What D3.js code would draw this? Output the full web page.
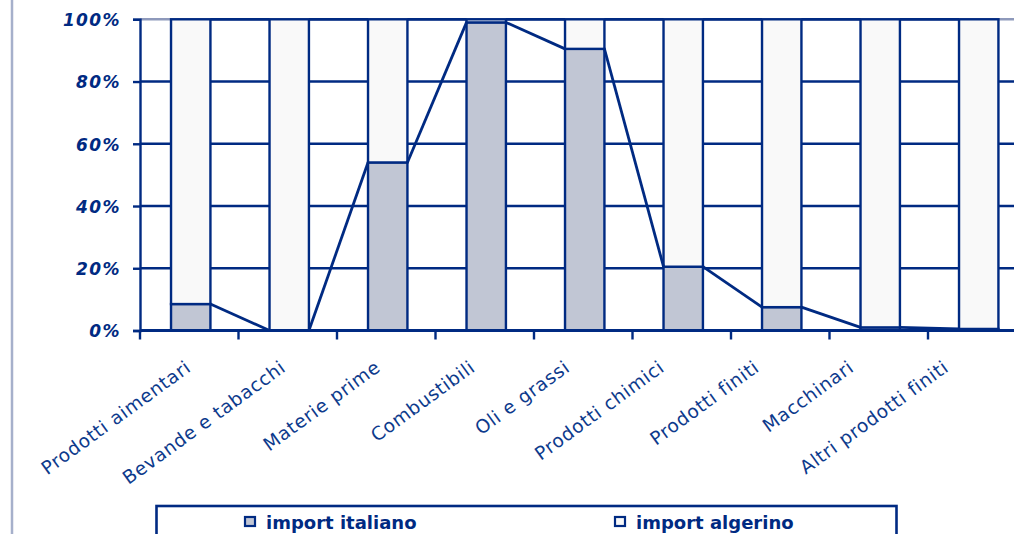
<!DOCTYPE html>
<html>
<head>
<meta charset="utf-8">
<script src="https://cdn.jsdelivr.net/npm/d3@7"></script>
<style>
  body { margin:0; background:#fff; }
  svg { display:block; }
  .ylab { font-family:"DejaVu Sans", Verdana, sans-serif; font-weight:bold; font-style:italic; font-size:17px; fill:#002a82; letter-spacing:1.4px; }
  .xlab { font-family:"DejaVu Sans", sans-serif; font-size:18.5px; fill:#0d3a8c; letter-spacing:0.7px; }
  .leg { font-family:"DejaVu Sans", Verdana, sans-serif; font-weight:bold; font-size:18px; fill:#002a82; }
</style>
</head>
<body>
<script>
const width = 1014, height = 534;

// data (% share of each category)
const categories = ['Prodotti aimentari','Bevande e tabacchi','Materie prime','Combustibili',
  'Oli e grassi','Prodotti chimici','Prodotti finiti','Macchinari','Altri prodotti finiti'];
const importItaliano = [8.5, 0, 54, 99, 90.5, 20.5, 7.5, 1, 0.5];
const importAlgerino = [91.5, 100, 46, 1, 9.5, 79.5, 92.5, 99, 99.5];
const seriesNames = ['import italiano','import algerino'];
const yTicks = [0, 0.2, 0.4, 0.6, 0.8, 1];

const navy = '#002a82';
const fills = {'import italiano':'#c1c6d4', 'import algerino':'#f9f9f9'};

const fig = {margin:{top:19.3, left:140, bottom:534-330.5}};
fig.right = 140 + 9*98.5;

const svg = d3.select('body').append('svg')
  .attr('width', width).attr('height', height);

const rows = categories.map((c,i) => ({cat:c, 'import italiano':importItaliano[i], 'import algerino':importAlgerino[i]}));
const stack = d3.stack().keys(seriesNames).offset(d3.stackOffsetExpand)(rows);

const x = d3.scaleBand()
  .domain(categories)
  .range([fig.margin.left, fig.right])
  .padding(0);
const step = x.step();
const barX = c => x(c) + step*0.315;
const barW = step*0.4;

// rotated labels sit on a slightly tighter spacing than the bars
const xLab = d3.scaleBand()
  .domain(categories)
  .range([fig.margin.left, fig.margin.left + 9*94.7]);

const y = d3.scaleLinear()
  .domain([0,1])
  .range([330.5, fig.margin.top]);

// left decorative line
svg.append('line')
  .attr('x1',12).attr('x2',12).attr('y1',0).attr('y2',height)
  .attr('stroke','#a6b0cb').attr('stroke-width',2.5);

// gridlines
svg.append('g')
  .selectAll('line')
  .data(yTicks.filter(t => t > 0 && t < 1))
  .join('line')
    .attr('x1', fig.margin.left).attr('x2', fig.right)
    .attr('y1', d => y(d)).attr('y2', d => y(d))
    .attr('stroke', navy).attr('stroke-width', 2.4);

// plot top border
svg.append('line')
  .attr('x1', fig.margin.left).attr('x2', fig.right)
  .attr('y1', y(1)).attr('y2', y(1))
  .attr('stroke','#8e99bb').attr('stroke-width',2.4);

// bars
svg.append('g')
  .selectAll('g')
  .data(stack)
  .join('g')
    .attr('fill', d => fills[d.key])
  .selectAll('rect')
  .data(d => d)
  .join('rect')
    .attr('x', d => barX(d.data.cat))
    .attr('y', d => y(d[1]))
    .attr('width', barW)
    .attr('height', d => y(d[0]) - y(d[1]))
    .attr('stroke', navy)
    .attr('stroke-width', 2.4);

// series lines between bars
const seg = [];
stack.forEach(layer => {
  for (let i = 0; i < layer.length - 1; i++) {
    seg.push({
      x1: barX(categories[i]) + barW, y1: y(layer[i][1]),
      x2: barX(categories[i+1]), y2: y(layer[i+1][1])
    });
  }
});
svg.append('g')
  .selectAll('line')
  .data(seg)
  .join('line')
    .attr('x1', d => d.x1).attr('y1', d => d.y1)
    .attr('x2', d => d.x2).attr('y2', d => d.y2)
    .attr('stroke', navy).attr('stroke-width', 2.8);

// y axis
const yAxis = d3.axisLeft(y)
  .tickValues(yTicks)
  .tickFormat(d3.format('.0%'))
  .tickSize(7)
  .tickPadding(12);
const gy = svg.append('g')
  .attr('transform','translate(' + fig.margin.left + ',0)')
  .call(yAxis);
gy.select('.domain').attr('stroke', navy).attr('stroke-width', 2.4);
gy.selectAll('.tick line').attr('stroke', navy).attr('stroke-width', 2.4);
gy.selectAll('.tick text').attr('class','ylab').attr('fill', null).attr('font-size', null).attr('font-family', null).attr('dy','0.37em');

// x axis
const tickPos = categories.map(c => x(c)).concat([fig.right]);
const gx = svg.append('g');
gx.append('line')
  .attr('x1', fig.margin.left).attr('x2', fig.right)
  .attr('y1', y(0)).attr('y2', y(0))
  .attr('stroke', navy).attr('stroke-width', 2.8);
gx.selectAll('.xtick')
  .data(tickPos)
  .join('line')
    .attr('class','xtick')
    .attr('x1', d => d).attr('x2', d => d)
    .attr('y1', y(0)).attr('y2', y(0) + 9)
    .attr('stroke', navy).attr('stroke-width', 2.4);
gx.selectAll('.xlab')
  .data(categories)
  .join('text')
    .attr('class','xlab')
    .attr('text-anchor','end')
    .attr('transform', d => 'translate(' + (xLab(d) + xLab.bandwidth()/2 + 5) + ',370) rotate(-36)')
    .text(d => d);

// legend
const leg = svg.append('g');
leg.append('rect')
  .attr('x',156.5).attr('y',506).attr('width',740).attr('height',60)
  .attr('fill','#fff').attr('stroke',navy).attr('stroke-width',2.6);
const legX = [245, 615];
const legItems = leg.selectAll('.li')
  .data(seriesNames)
  .join('g')
    .attr('class','li')
    .attr('transform', (d,i) => 'translate(' + legX[i] + ',517)');
legItems.append('rect')
  .attr('width', 10).attr('height', 9)
  .attr('fill', d => fills[d]).attr('stroke', navy).attr('stroke-width', 2.2);
legItems.append('text')
  .attr('class','leg')
  .attr('x', 21).attr('y', 11.5)
  .text(d => d);
</script>
</body>
</html>
